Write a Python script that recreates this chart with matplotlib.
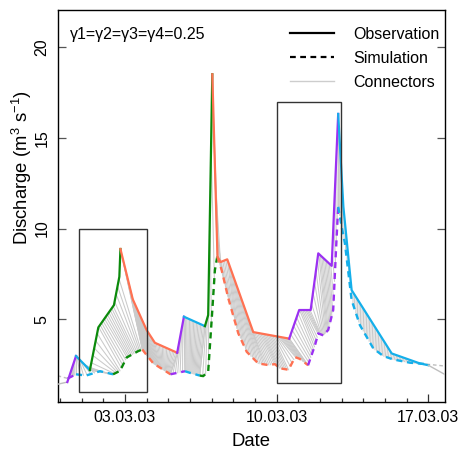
import numpy as np
import matplotlib.pyplot as plt
import matplotlib.dates as mdates
from matplotlib.patches import Rectangle
from matplotlib.lines import Line2D
import datetime as dt

plt.rcParams['font.family'] = ['Liberation Sans', 'DejaVu Sans']
plt.rcParams['mathtext.fontset'] = 'custom'
plt.rcParams['mathtext.rm'] = 'Liberation Sans'
plt.rcParams['mathtext.default'] = 'regular'

t0 = mdates.date2num(dt.datetime(2003, 3, 3))

# observed discharge (days after 03.03.03, m3/s), class of each interval
obs_day = [-3.11, -2.66, -2.26, -1.62, -1.23, -0.51, -0.26, -0.21, 0.36, 1.00, 1.38, 2.41,
           2.72, 3.69, 3.84, 4.03, 4.27, 4.41, 4.72, 5.92, 7.58, 8.04, 8.57, 8.92, 9.54,
           9.84, 10.08, 10.46, 12.31, 13.61, 14.00, 14.81]
obs_q = [1.40, 1.52, 2.96, 2.18, 4.54, 5.77, 7.34, 8.87, 6.09, 4.39, 3.69, 3.14,
         5.13, 4.61, 5.22, 18.52, 8.45, 8.15, 8.30, 4.28, 3.92, 5.50, 5.50, 8.63, 7.94,
         16.33, 11.2, 6.60, 3.10, 2.55, 2.45, 1.91]
obs_cls = ['none', 'rs', 'fs', 'r', 'r', 'r', 'r', 'f', 'f', 'f', 'f',
           'rs', 'fs', 'r', 'r', 'f', 'f', 'f', 'f', 'f', 'rs', 'rs', 'rs', 'rs', 'rs',
           'fs', 'fs', 'fs', 'fs', 'fs', 'none']

# simulated discharge
sim_day = [-3.11, -2.64, -2.26, -1.80, -1.15, -0.55, -0.23, 0.08, 0.61, 0.80, 1.00, 1.31,
           2.10, 2.77, 3.00, 3.45, 3.61, 3.84, 4.00, 4.15, 4.26, 4.46, 4.77, 5.23, 5.62,
           6.15, 6.61, 6.92, 7.15, 7.55, 7.85, 8.07, 8.45, 8.77, 8.92, 9.15, 9.38, 9.61,
           9.74, 9.84, 10.00, 10.15, 10.46, 10.84, 11.46, 11.92, 12.38, 13.15, 13.92, 14.81]
sim_q = [1.87, 1.72, 1.95, 1.88, 2.12, 1.95, 2.14, 2.88, 3.23, 3.32, 3.01, 2.55,
         1.95, 2.12, 2.03, 1.88, 1.85, 2.10, 4.94, 7.71, 8.45, 7.71, 6.14, 4.21, 3.19,
         2.55, 2.46, 2.51, 2.28, 2.20, 2.90, 2.80, 2.45, 3.56, 4.21, 4.10, 4.40, 5.50,
         8.85, 11.2, 10.1, 9.18, 6.05, 4.67, 3.38, 2.96, 2.77, 2.59, 2.51, 2.40]
sim_cls = ['none', 'rs', 'fs', 'fs', 'fs', 'r', 'r', 'r', 'r', 'f', 'f', 'f',
           'rs', 'fs', 'fs', 'r', 'r', 'r', 'r', 'r', 'f', 'f', 'f', 'f', 'f', 'f', 'f',
           'f', 'f', 'f', 'f', 'f', 'rs', 'rs', 'rs', 'rs', 'rs', 'rs', 'rs', 'fs', 'fs',
           'fs', 'fs', 'fs', 'fs', 'fs', 'fs', 'fs', 'none']

cls_colors = {'none': '#BEBEBE', 'rs': '#9B30F2', 'fs': '#14AFEA', 'r': '#0B8A0B', 'f': '#FF7152'}

# zoom boxes
box_left = [-2.12, 7.03]
box_right = [1.00, 9.95]
box_bottom = [0.95, 1.48]
box_top = [9.97, 17.0]


def runs(cls):
    out = []
    s = 0
    for i in range(1, len(cls) + 1):
        if i == len(cls) or cls[i] != cls[s]:
            out.append((s, i, cls[s]))
            s = i
    return out


fig = plt.figure(figsize=(4.6, 4.49), dpi=100)
ax = fig.add_axes([0.1254, 0.1047, 0.842, 0.873])

obs_x = t0 + np.array(obs_day)
sim_x = t0 + np.array(sim_day)
obs_runs = runs(obs_cls)
sim_runs = runs(sim_cls)

# connectors between matched segments
obs_col = [r for r in obs_runs if r[2] != 'none']
sim_col = [r for r in sim_runs if r[2] != 'none']
for (a, b, c), (p, r, _) in zip(obs_col, sim_col):
    n = int((obs_day[b] - obs_day[a]) * 14) + 3
    f = np.linspace(0, 1, n)
    to = obs_day[a] + f * (obs_day[b] - obs_day[a])
    ts = sim_day[p] + f * (sim_day[r] - sim_day[p])
    qo = np.interp(to, obs_day, obs_q)
    qs = np.interp(ts, sim_day, sim_q)
    for i in range(n):
        ax.plot([t0 + to[i], t0 + ts[i]], [qo[i], qs[i]], color='#CACACA', lw=0.75, zorder=1)

for s, e, c in sim_runs:
    lw = 1.0 if c == 'none' else 1.7
    ax.plot(sim_x[s:e + 1], sim_q[s:e + 1], color=cls_colors[c], lw=lw,
            ls=(0, (2.6, 2.0)), zorder=2)
for s, e, c in obs_runs:
    lw = 1.0 if c == 'none' else 1.6
    ax.plot(obs_x[s:e + 1], obs_q[s:e + 1], color=cls_colors[c], lw=lw, zorder=3)

for i in range(len(box_left)):
    ax.add_patch(Rectangle((t0 + box_left[i], box_bottom[i]), box_right[i] - box_left[i],
                           box_top[i] - box_bottom[i], fill=False, ec='#333333', lw=1.0, zorder=4))

ax.set_xlim(t0 - 3.106, t0 + 14.77)
ax.set_ylim(0.42, 22.07)
ax.xaxis.set_major_locator(mdates.DayLocator(bymonthday=[3, 10, 17]))
ax.xaxis.set_minor_locator(mdates.DayLocator())
ax.xaxis.set_major_formatter(mdates.DateFormatter('%d.%m.%y'))
ax.set_yticks([5, 10, 15, 20])
ax.tick_params(axis='x', which='major', direction='in', length=6, width=0.9,
               color='#333333', labelsize=11.5, pad=6)
ax.tick_params(axis='x', which='minor', direction='in', length=3, width=0.9, color='#333333')
ax.tick_params(axis='y', direction='in', length=6, width=0.9, color='#555555',
               labelsize=11.5, pad=6, right=True, labelrotation=90)
for lab in ax.get_yticklabels():
    lab.set_va('center')
for sp in ax.spines.values():
    sp.set_linewidth(1.0)

ax.set_xlabel('Date', fontsize=13.3)
ax.xaxis.set_label_coords(0.5, -0.08)
ax.set_ylabel('Discharge (m$^{3}$ s$^{-1}$)', fontsize=13.3)
ax.yaxis.set_label_coords(-0.06, 0.597)

ax.text(0.032, 0.938, 'γ1=γ2=γ3=γ4=0.25', transform=ax.transAxes, fontsize=11.5, va='center')

handles = [Line2D([], [], color='black', lw=1.6),
           Line2D([], [], color='black', lw=1.6, ls=(0, (2.6, 2.0))),
           Line2D([], [], color='#CDCDCD', lw=1.0)]
ax.legend(handles, ['Observation', 'Simulation', 'Connectors'], loc='upper right',
          bbox_to_anchor=(0.985, 0.957), frameon=False, fontsize=11.5, handlelength=2.75,
          handletextpad=1.17, labelspacing=0.56, borderaxespad=0, borderpad=0)

plt.savefig('out.png', dpi=100)
